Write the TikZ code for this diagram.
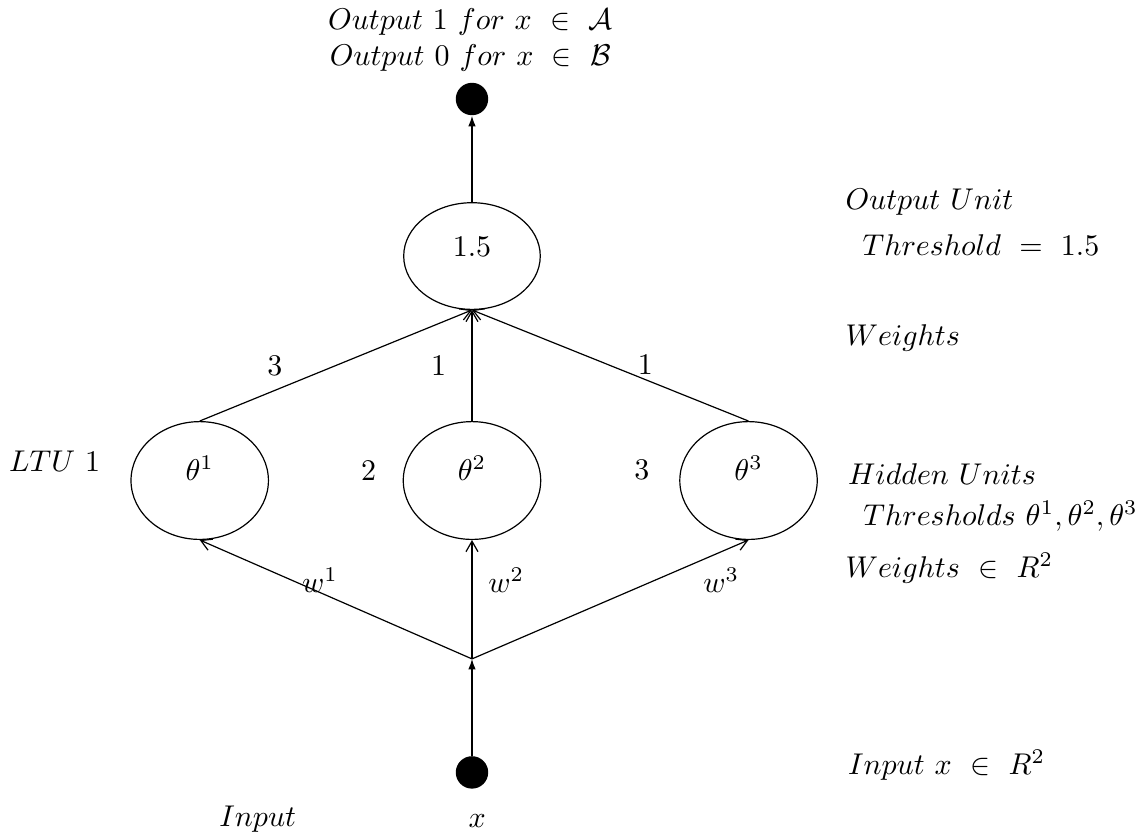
\documentclass[tikz,border=0pt]{standalone}
\usepackage{amsmath}
\usepackage{amsfonts}
\usetikzlibrary{arrows.meta,shapes.geometric}

\begin{document}
\begin{tikzpicture}[thin,
		unit/.style={draw, ellipse, inner sep=0pt, text height=1.5ex, text depth=1.5ex},
		hid/.style={unit, minimum width=1.61cm, minimum height=1.38cm},
		dot/.style={circle, fill=black, minimum size=0.38cm, inner sep=0pt},
		barb/.style={-{Straight Barb[length=3.5pt,width=4pt]}},
		tip/.style={-{Latex[length=3.5pt,width=2.5pt]}}]
			\useasboundingbox (0,0) rectangle (13.31,9.81);

			\node[align=center] (cls) at (5.51,9.34) {$Output\ 1\ for\ x\ \in\ \mathcal{A}$\\$Output\ 0\ for\ x\ \in\ \mathcal{B}$};
			\node[dot] (y) at (5.53,8.65) {};
			\node[unit, minimum width=1.60cm, minimum height=1.25cm] (o) at (5.53,6.81) {$1.5$};

			\node[hid] (h1) at (2.34,4.18) {$\theta^1$};
			\node[hid] (h2) at (5.53,4.18) {$\theta^2$};
			\node[hid] (h3) at (8.77,4.18) {$\theta^3$};
			\coordinate (j) at (5.53,2.09);
			\node[dot] (x) at (5.53,0.76) {};

			\draw[tip] (o)--(y);
			\draw[barb] (h1.north)--(o.south);
			\draw[barb] (h2)--(o);
			\draw[barb] (h3.north)--(o.south);
			\draw[tip] (x)--(j);
			\draw[barb] (j)--(h1.south);
			\draw[barb] (j)--(h2);
			\draw[barb] (j)--(h3.south);

			\node (v1) at (3.22,5.52) {$3$};
			\node (v2) at (5.14,5.52) {$1$};
			\node (v3) at (7.56,5.54) {$1$};
			\node (ltu) at (0.64,4.40) {$LTU\ 1$};
			\node (n2) at (4.32,4.29) {$2$};
			\node (n3) at (7.52,4.31) {$3$};
			\node (w1) at (3.75,3.01) {$w^1$};
			\node (w2) at (5.93,3.01) {$w^2$};
			\node (w3) at (8.45,3.01) {$w^3$};
			\node (inp) at (3.02,0.21) {$Input$};
			\node (xl) at (5.59,0.19) {$x$};

			\node[anchor=west, inner sep=0pt] (ou) at (9.90,7.44) {$Output\ Unit$};
			\node[anchor=west, inner sep=0pt] (ot) at (10.10,6.94) {$Threshold\ =\ 1.5$};
			\node[anchor=west, inner sep=0pt] (ow) at (9.90,5.85) {$Weights$};
			\node[anchor=west, inner sep=0pt] (hu) at (9.93,4.25) {$Hidden\ Units$};
			\node[anchor=west, inner sep=0pt] (ht) at (10.11,3.76) {$Thresholds\ \theta^1, \theta^2, \theta^3$};
			\node[anchor=west, inner sep=0pt] (hw) at (9.90,3.15) {$Weights\ \in\ R^2$};
			\node[anchor=west, inner sep=0pt] (ix) at (9.93,0.84) {$Input\ x\ \in\ R^2$};
		\end{tikzpicture}
\end{document}
